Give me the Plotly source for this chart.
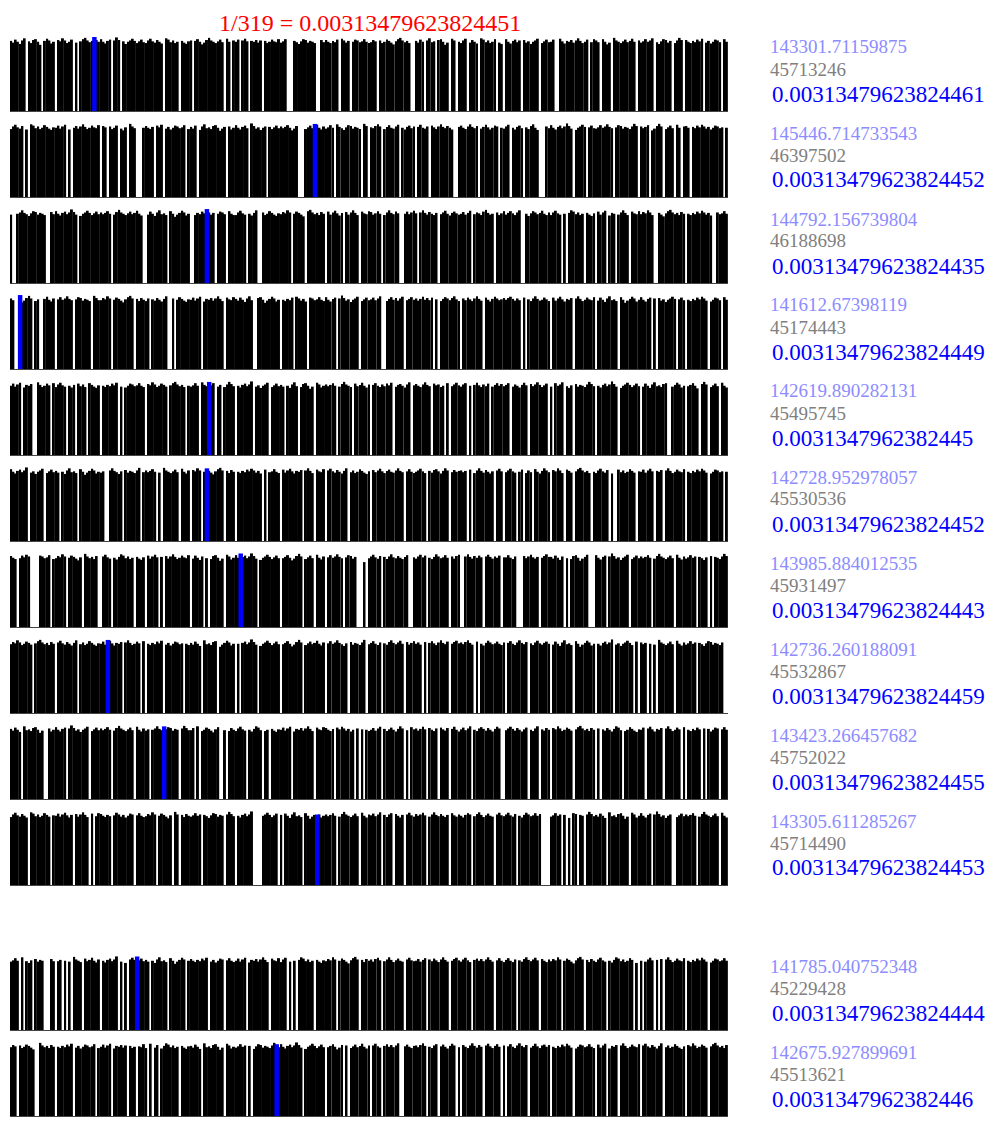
import plotly.graph_objects as go

TITLE = "1/319 = 0.00313479623824451"

# bar values (thousands) per row, 319 bars each; 0 = empty slot
ROW_01 = [
162,158,165,160,155,163,168,0,161,157,164,166,160,153,0,162,167,163,156,160,
0,164,161,168,163,157,160,165,0,158,0,161,166,169,163,159,162,170,164,160,
166,160,156,162,165,0,163,170,164,0,161,155,160,163,167,162,157,161,165,159,
157,163,167,161,158,164,160,156,0,168,165,159,163,157,160,0,162,158,155,161,
163,0,162,166,160,154,158,164,169,163,160,157,161,165,159,0,167,160,0,163,
160,165,0,163,167,161,0,162,160,164,158,163,0,162,157,160,165,161,159,166,
158,161,166,0,0,0,162,159,155,161,166,164,158,162,160,157,0,0,164,159,
164,160,157,162,159,165,0,167,163,158,162,0,160,165,163,159,161,166,160,157,
159,164,161,0,163,157,160,165,162,158,154,161,166,169,163,159,162,157,0,0,
162,158,165,160,0,163,168,159,161,0,164,166,160,153,158,0,167,163,0,160,
157,163,167,0,158,164,160,156,0,168,165,159,163,157,160,166,0,158,155,0,
166,160,156,162,165,159,163,0,164,158,161,155,160,163,167,0,157,161,165,159,
160,165,0,0,167,161,156,162,160,164,158,163,168,162,157,160,165,0,159,166,
163,159,0,166,160,154,158,0,169,163,160,157,161,165,159,162,167,160,0,163,
158,161,166,160,163,168,0,159,155,161,166,164,158,162,0,157,163,169,164,0,
164,160,157,162,159,165,161,167,0,158,162,156,160,165,163,159,0,166,160]

ROW_02 = [
157,163,167,161,158,164,0,156,0,168,165,159,163,157,160,166,162,158,155,161,
160,165,158,163,167,0,156,0,160,164,158,163,168,162,157,160,165,161,159,166,
0,164,161,0,163,157,160,165,0,158,154,161,0,169,163,159,0,0,0,160,
164,160,157,162,0,165,161,167,0,158,162,156,160,165,163,159,161,166,0,157,
162,158,165,0,155,163,168,159,161,157,164,166,160,153,158,162,0,163,156,160,
166,160,156,162,165,159,0,170,164,158,161,155,160,163,0,162,157,161,165,159,
163,159,162,166,160,154,158,164,0,0,0,157,161,165,159,166,167,160,156,163,
158,161,166,160,0,168,162,159,155,161,166,164,158,162,160,157,0,169,164,0,
161,159,164,168,163,0,157,162,166,160,158,163,167,0,160,156,162,165,159,163,
0,162,167,160,158,163,0,165,161,157,163,168,162,159,164,160,156,0,0,162,
165,160,157,163,168,162,159,164,0,158,162,167,161,156,160,165,163,0,160,158,
163,167,0,160,156,162,165,159,0,161,157,164,168,160,155,0,0,0,163,159,
166,160,156,162,165,159,163,170,164,158,0,155,160,163,167,162,0,161,165,159,
158,161,166,160,163,168,162,159,0,161,166,164,158,162,160,157,163,169,164,0,
163,159,162,166,0,154,158,164,169,163,0,157,161,165,159,0,167,160,0,163,
164,160,0,162,159,165,161,167,163,158,162,156,160,165,163,159,161,0,160]

ROW_03 = [
158,0,0,160,163,168,162,159,155,161,166,164,158,162,160,157,0,0,164,159,
166,160,156,162,165,159,163,170,164,158,0,155,160,163,167,162,157,161,165,159,
163,159,162,166,160,0,158,164,169,163,160,157,161,165,159,162,167,160,156,0,
0,158,165,160,155,163,168,159,161,157,0,166,160,153,158,162,167,163,156,160,
0,0,157,162,159,165,161,168,163,158,162,0,160,165,163,159,0,166,160,157,
157,163,167,161,158,0,160,156,162,168,0,0,163,157,160,166,162,158,155,161,
159,164,161,168,163,0,160,165,162,158,154,0,166,169,163,159,162,157,164,160,
0,165,158,163,167,161,156,162,0,164,158,163,168,162,157,0,165,161,159,166,
164,158,161,166,160,0,157,163,168,162,159,165,161,0,0,160,165,159,163,167,
161,0,163,168,162,158,164,160,157,162,0,159,163,167,160,156,162,165,161,158,
160,164,158,162,167,0,159,163,161,157,165,169,162,158,160,0,163,157,161,166,
158,162,166,161,157,163,168,0,0,160,155,161,166,163,159,162,167,160,157,163,
157,163,167,161,158,0,160,0,162,168,165,159,163,157,160,0,162,158,155,161,
0,165,158,163,167,0,156,162,160,0,158,163,168,162,157,0,165,161,159,166,
159,164,161,168,163,157,0,0,162,158,154,161,166,169,163,159,162,157,164,160,
0,160,157,162,159,165,161,167,163,158,162,156,0,0,163,159,161,166,160]

ROW_04 = [
163,159,0,0,168,154,158,164,169,163,0,157,161,0,0,162,167,160,156,163,
0,161,166,160,163,168,162,159,0,161,166,164,158,162,160,157,0,169,164,159,
159,164,161,168,163,0,160,165,162,158,154,161,166,169,163,0,162,157,164,160,
157,163,0,161,158,164,160,156,162,168,0,0,163,0,160,166,162,158,155,161,
160,165,158,163,167,0,156,162,160,164,158,163,168,162,157,0,165,161,159,166,
162,158,165,160,155,163,168,159,0,0,164,166,160,153,158,162,167,163,156,160,
0,160,157,162,159,165,0,167,163,158,162,156,0,165,163,159,161,166,160,157,
166,160,156,162,165,0,163,170,164,158,161,155,160,163,167,0,157,161,165,159,
161,165,159,163,168,0,0,157,162,166,160,164,158,163,167,0,159,162,166,160,
163,158,162,167,160,164,159,165,0,161,0,157,162,166,163,159,164,168,161,157,
0,163,159,165,161,157,163,168,162,158,0,165,160,156,162,167,163,159,161,164,
160,164,167,162,158,163,159,0,165,0,161,157,163,168,162,158,160,165,161,157,
0,165,158,163,167,161,156,162,160,164,0,163,168,162,157,160,165,161,159,166,
0,158,165,160,155,163,168,159,161,157,0,166,160,153,158,162,167,163,156,160,
166,160,156,162,165,0,163,0,164,158,161,155,160,163,167,162,0,161,165,159,
0,160,157,162,159,165,161,167,163,158,0,156,160,165,163,159,0,166,160]

ROW_05 = [
160,165,158,163,167,0,156,162,160,164,0,0,168,162,157,160,165,161,0,166,
157,163,167,161,158,0,160,156,162,0,165,159,163,157,0,166,162,158,155,161,
0,160,157,162,159,165,161,167,0,158,0,156,160,165,163,159,161,166,160,157,
0,164,161,168,163,157,160,165,162,158,0,161,166,169,163,159,162,157,0,160,
158,161,166,160,0,168,162,159,166,161,166,0,158,162,0,157,163,169,164,159,
0,160,156,162,165,159,163,170,0,158,161,155,160,163,167,0,157,161,165,159,
162,158,0,160,155,163,168,159,0,157,164,166,160,153,158,0,167,163,156,160,
163,159,162,166,160,0,158,164,169,163,160,157,0,165,159,162,167,160,156,163,
0,162,166,160,157,163,159,165,161,167,0,158,162,164,160,156,163,168,0,161,
164,160,157,163,168,162,159,0,165,161,163,157,160,0,166,0,159,163,167,161,
158,163,166,0,160,0,162,167,161,157,163,159,165,0,158,162,166,160,164,159,
162,166,0,158,163,160,156,162,167,161,0,164,159,163,168,162,157,161,165,0,
158,0,166,160,163,168,0,159,155,161,0,164,158,162,160,157,163,169,164,159,
0,160,156,162,165,159,163,170,164,158,0,155,160,163,167,162,157,161,165,159,
0,158,165,160,155,163,168,159,161,157,164,166,0,0,158,162,167,163,156,160,
0,159,162,166,160,154,0,164,169,163,0,157,161,165,159,0,167,160,156]

ROW_06 = [
166,160,156,162,165,159,163,170,0,158,161,155,160,163,167,0,157,161,165,159,
162,158,0,160,155,163,168,159,161,157,0,166,160,153,158,162,167,163,156,160,
158,161,0,0,163,168,162,159,155,161,0,164,158,162,160,157,163,169,0,159,
163,159,162,166,160,0,158,0,169,163,160,157,161,165,159,0,167,160,156,163,
0,164,161,168,163,0,160,165,162,158,154,161,166,169,163,0,162,157,164,160,
0,160,157,162,159,165,161,167,163,158,162,156,0,165,0,159,161,166,160,157,
0,165,158,163,167,161,156,162,160,164,0,163,168,162,157,0,165,161,159,166,
0,163,167,161,158,164,160,156,162,168,0,159,163,157,160,166,162,158,155,161,
0,164,159,163,167,161,157,162,165,160,158,163,168,162,159,0,161,166,160,157,
160,163,167,161,157,0,162,158,164,166,161,156,162,168,163,0,159,164,160,162,
163,159,162,0,165,0,157,163,168,162,158,164,160,156,161,0,163,167,161,0,
159,163,167,161,158,0,160,165,0,157,163,159,0,166,160,156,162,168,163,159,
0,164,161,168,163,157,0,165,162,158,0,161,166,169,163,159,162,157,0,160,
157,163,167,161,158,164,0,156,0,0,165,159,163,157,160,166,162,158,0,161,
160,165,158,163,167,161,0,162,160,164,0,163,168,162,157,160,165,161,159,166,
0,160,157,162,159,165,161,167,163,158,0,156,160,165,163,159,161,0,160]

ROW_07 = [
164,160,157,0,159,165,161,167,163,0,0,0,0,165,163,159,161,166,0,157,
159,164,161,168,163,0,160,165,162,158,154,161,0,169,163,159,162,157,164,0,
0,163,167,161,158,0,160,156,162,168,165,159,163,157,160,0,162,158,155,161,
0,165,158,163,167,161,0,162,0,164,158,163,168,162,157,160,165,161,159,166,
0,158,165,160,155,163,0,159,0,157,164,166,160,153,158,0,167,163,156,160,
166,160,167,162,165,159,163,170,164,158,0,155,160,163,167,162,157,161,165,159,
0,159,162,166,160,154,158,164,169,163,0,157,161,165,159,0,167,160,156,163,
0,161,166,160,163,168,162,159,0,161,166,164,158,162,0,0,0,150,0,159,
163,167,161,158,164,0,162,157,163,168,161,159,164,160,157,162,166,0,0,161,
158,163,167,161,165,0,160,157,162,168,163,159,161,166,160,0,163,158,164,167,
0,0,163,168,162,158,164,160,165,161,0,163,167,162,158,163,160,165,0,161,
161,166,160,157,163,0,0,0,164,159,163,167,161,158,162,0,160,164,168,162,
162,158,165,160,155,163,0,159,0,157,164,166,160,153,158,162,167,0,0,0,
166,160,156,162,165,0,163,170,164,158,161,155,160,163,167,0,157,161,165,159,
163,159,162,166,160,0,158,164,169,163,160,157,161,165,159,0,167,160,156,163,
158,161,166,160,163,0,162,159,155,161,0,164,0,162,160,157,163,169,164]

ROW_08 = [
159,164,161,168,163,157,160,165,162,158,0,161,166,169,163,159,162,157,164,160,
0,163,167,161,158,164,160,156,162,168,0,159,163,157,160,166,162,158,155,161,
160,165,158,166,167,161,156,162,160,164,0,163,168,162,157,160,165,161,0,166,
0,160,157,162,159,165,161,167,0,158,162,156,160,165,163,159,161,0,160,157,
162,158,165,160,155,0,168,159,161,157,164,166,0,153,158,162,167,163,156,160,
0,160,0,162,165,159,163,170,164,158,0,155,160,163,167,162,157,161,165,159,
0,159,162,166,160,154,158,164,169,163,0,157,161,165,159,162,167,160,156,163,
0,161,166,160,163,168,162,159,155,161,0,164,158,162,160,157,163,169,0,159,
162,166,160,157,163,0,161,158,164,168,162,159,163,167,160,0,164,158,162,166,
160,163,158,0,164,0,162,166,161,157,163,168,162,159,165,0,160,164,167,161,
163,159,164,168,162,158,0,165,0,160,156,162,167,163,159,161,165,160,157,163,
0,162,166,160,157,163,168,162,159,164,0,161,157,163,167,161,158,162,165,160,
0,158,165,160,155,163,168,159,161,157,0,166,160,153,158,162,167,163,156,160,
0,160,156,162,165,159,163,170,0,158,161,155,160,163,167,162,157,0,165,0,
163,159,162,0,160,0,158,0,169,163,160,157,161,165,159,0,167,160,156,163,
158,161,166,160,163,0,162,159,155,161,166,164,158,162,160,157,163,0,0]

ROW_09 = [
162,158,165,160,155,0,168,159,161,157,164,166,160,153,158,0,0,163,156,160,
166,160,156,162,165,0,163,170,164,158,161,155,160,163,167,0,157,161,165,159,
163,159,162,166,160,0,158,164,169,163,160,157,161,165,159,0,167,160,156,163,
158,161,0,160,163,168,162,159,165,161,166,164,158,162,160,0,163,169,164,159,
159,164,0,168,0,157,160,165,162,158,154,161,166,0,0,159,0,157,164,160,
157,163,167,161,158,0,160,156,162,168,165,159,0,157,160,0,162,158,155,161,
160,165,158,163,167,0,156,162,160,164,158,163,168,162,157,0,165,161,159,166,
164,160,157,162,0,165,161,167,163,158,162,156,160,0,163,0,161,0,160,157,
160,164,158,163,167,0,162,157,161,165,160,156,162,168,163,0,159,0,166,161,
163,158,162,167,161,0,164,160,157,163,0,165,161,158,164,0,162,167,160,156,
161,165,159,163,168,0,160,157,163,166,162,158,164,160,156,162,167,163,0,0,
159,163,167,162,158,164,160,156,161,165,0,160,157,163,168,0,161,158,164,160,
0,164,161,168,163,157,160,165,162,158,0,161,166,169,163,159,162,157,164,160,
0,163,0,161,158,164,160,156,162,168,165,159,0,157,160,166,162,158,155,161,
160,165,0,163,167,161,156,162,160,164,0,163,168,162,157,160,165,161,0,166,
0,160,157,162,159,165,161,0,163,0,162,156,160,165,163,0,161,166,160]

ROW_10 = [
157,163,167,161,158,164,160,156,0,168,165,159,163,157,160,166,162,158,0,161,
160,165,158,163,167,161,156,162,0,164,158,163,168,162,157,0,165,0,159,166,
164,160,157,162,159,0,161,167,163,158,162,156,160,165,163,0,161,166,160,157,
159,164,161,168,163,0,160,165,162,158,154,161,0,169,163,0,162,157,164,160,
158,161,166,160,163,0,162,159,155,161,166,164,158,162,160,0,163,169,164,159,
0,160,156,162,165,159,163,170,0,0,0,0,160,163,167,162,157,161,165,0,
162,0,165,160,155,163,168,159,161,157,0,166,160,153,158,162,160,163,156,160,
163,159,162,166,160,0,158,164,169,163,160,157,161,165,159,0,167,160,156,163,
161,165,159,163,168,0,162,157,163,166,0,164,160,156,162,0,163,167,161,158,
164,160,163,167,161,0,158,163,168,162,159,164,160,157,162,0,166,161,158,163,
160,156,162,166,163,0,159,164,168,162,157,161,165,160,158,0,163,167,161,159,
163,167,161,158,164,0,160,156,162,167,163,159,161,166,160,164,0,0,0,0,
158,161,166,160,163,0,162,0,155,0,166,164,0,162,160,0,163,169,164,159,
162,158,165,160,155,0,168,159,161,157,164,166,160,153,158,0,167,163,156,160,
166,160,156,162,165,0,163,170,164,158,161,155,160,163,0,0,157,161,165,159,
163,159,162,166,160,0,158,164,169,163,160,157,161,165,159,0,167,160,156]

ROW_11 = [
158,161,166,160,0,168,0,159,155,161,0,164,158,162,160,0,0,0,164,159,
0,159,162,0,160,0,158,0,169,163,160,157,0,165,159,162,167,160,156,163,
0,160,156,162,165,159,163,170,0,158,0,155,0,163,167,162,167,161,165,159,
162,158,0,160,155,163,168,159,161,157,0,166,160,153,158,162,167,163,0,160,
164,160,157,162,159,165,161,167,0,158,162,156,160,165,163,0,161,166,160,157,
160,165,158,163,167,0,156,162,160,164,158,163,168,162,157,0,165,161,159,166,
157,163,167,0,158,0,160,0,162,168,165,159,163,157,160,0,162,158,155,161,
159,164,161,168,163,0,160,165,162,158,154,161,166,169,163,0,162,157,164,160,
163,158,164,167,161,0,159,163,168,162,157,161,165,160,158,0,163,167,161,159,
160,164,158,162,166,0,163,159,165,161,157,163,168,162,158,0,160,164,167,161,
158,163,167,161,157,0,162,165,160,164,159,163,168,162,158,0,161,166,160,157,
162,166,160,157,163,0,161,158,164,168,162,159,163,167,161,0,164,160,157,163,
159,164,161,168,163,0,160,165,162,158,154,161,166,169,163,0,162,157,164,160,
157,163,167,161,158,0,160,156,162,168,165,159,163,157,160,166,162,0,155,0,
160,0,158,163,167,161,0,162,0,164,0,163,168,162,157,160,165,161,159,166,
0,160,157,162,159,165,161,167,163,158,0,156,160,165,163,159,161,166,160]

ROW_12 = [
159,164,161,0,163,157,160,165,162,158,154,0,0,169,163,159,162,157,164,160,
0,160,157,162,159,165,161,167,0,158,162,156,160,165,163,159,161,166,0,157,
160,165,158,163,167,0,156,162,160,164,158,163,0,162,157,160,0,161,159,166,
157,0,167,0,158,164,0,156,162,168,165,159,163,157,160,0,162,158,155,161,
162,158,165,160,155,0,168,159,161,157,164,166,160,153,158,0,167,163,156,160,
158,161,166,160,163,0,162,0,155,161,166,164,158,162,160,157,163,169,163,159,
166,160,156,162,165,159,163,170,164,158,0,155,160,163,167,162,157,161,165,159,
0,159,162,166,160,154,158,164,0,163,0,157,161,165,159,162,167,160,156,163,
0,163,167,161,158,0,162,166,160,164,159,163,168,0,0,161,165,160,157,162,
163,159,164,168,162,0,160,157,163,166,0,161,165,160,156,162,167,163,0,159,
0,164,160,157,163,168,162,158,164,160,0,163,167,161,157,162,166,160,0,163,
0,161,166,160,157,163,168,162,159,164,0,158,162,167,161,157,163,165,160,164,
0,160,157,162,159,165,161,167,163,158,0,156,160,165,163,159,161,166,160,157,
0,165,158,163,167,0,156,162,160,164,0,163,168,162,157,160,165,161,159,166,
0,163,167,161,158,164,160,156,162,168,0,159,163,157,160,166,162,158,155,161,
0,164,161,168,163,157,160,165,162,158,0,161,166,169,163,159,162,157,164]

ROWS = [ROW_01, ROW_02, ROW_03, ROW_04, ROW_05, ROW_06,
        ROW_07, ROW_08, ROW_09, ROW_10, ROW_11, ROW_12]

# index of the highlighted (blue) bar in each row
HIGHLIGHT = [37, 135, 87, 4, 88, 87, 102, 43, 68, 136, 56, 118]

MEANS = ["143301.71159875", "145446.714733543", "144792.156739804", "141612.67398119",
         "142619.890282131", "142728.952978057", "143985.884012535", "142736.260188091",
         "143423.266457682", "143305.611285267", "141785.040752348", "142675.927899691"]
SUMS = ["45713246", "46397502", "46188698", "45174443", "45495745", "45530536",
        "45931497", "45532867", "45752022", "45714490", "45229428", "45513621"]
PROBS = ["0.00313479623824461", "0.00313479623824452", "0.00313479623824435",
         "0.00313479623824449", "0.0031347962382445", "0.00313479623824452",
         "0.00313479623824443", "0.00313479623824459", "0.00313479623824455",
         "0.00313479623824453", "0.00313479623824444", "0.0031347962382446"]

lens = [len(r) for r in ROWS]
assert all(n == 319 for n in lens), f"row lengths: {lens}"

W, H = 997, 1128
FONT = "Liberation Serif"
baselines = [111 + 86 * i for i in range(10)] + [1030, 1116]
PH = 74
X0, X1 = 10, 728
YMAX = 171

fig = go.Figure()
layout = dict(width=W, height=H, autosize=False,
              margin=dict(l=0, r=0, t=0, b=0),
              paper_bgcolor="white", plot_bgcolor="white",
              barmode="overlay", bargap=0.12, showlegend=False)
annotations = []

for i, vals in enumerate(ROWS):
    k = "" if i == 0 else str(i + 1)
    xa, ya = "x" + k, "y" + k
    n = len(vals)
    xs = list(range(n))
    fig.add_trace(go.Bar(x=xs, y=vals, xaxis=xa, yaxis=ya,
                         marker=dict(color="#000000", line=dict(width=0)),
                         hoverinfo="skip"))
    h = HIGHLIGHT[i]
    fig.add_trace(go.Bar(x=[h], y=[vals[h]], xaxis=xa, yaxis=ya,
                         marker=dict(color="#0000ff", line=dict(color="#0000ff", width=2.5)),
                         hoverinfo="skip"))
    b = baselines[i]
    top = b - PH
    layout["xaxis" + k] = dict(domain=[X0 / W, X1 / W], range=[-0.5, n - 0.5],
                              anchor=ya, showticklabels=False, ticks="",
                              showgrid=False, zeroline=False, fixedrange=True,
                              showline=True, linecolor="#444444", linewidth=1)
    layout["yaxis" + k] = dict(domain=[1 - b / H, 1 - top / H], range=[0, YMAX],
                              anchor=xa, visible=False, showgrid=False,
                              zeroline=False, fixedrange=True)
    tx = 768 / W
    annotations.append(dict(xref="paper", yref="paper", x=tx, y=1 - (top + 10) / H,
                            xanchor="left", yanchor="middle", showarrow=False,
                            text=MEANS[i], font=dict(family=FONT, size=19, color="#8c8cff")))
    annotations.append(dict(xref="paper", yref="paper", x=tx, y=1 - (top + 32) / H,
                            xanchor="left", yanchor="middle", showarrow=False,
                            text=SUMS[i], font=dict(family=FONT, size=19, color="#808080")))
    annotations.append(dict(xref="paper", yref="paper", x=770 / W, y=1 - (top + 57) / H,
                            xanchor="left", yanchor="middle", showarrow=False,
                            text=PROBS[i], font=dict(family=FONT, size=23, color="#0000ff")))

annotations.append(dict(xref="paper", yref="paper", x=370 / W, y=1 - 23 / H,
                        xanchor="center", yanchor="middle", showarrow=False,
                        text=TITLE, font=dict(family=FONT, size=24, color="#ff0000")))
layout["annotations"] = annotations
fig.update_layout(**layout)
fig.write_html("out.html", config={"displayModeBar": False},
               post_script="document.body.style.margin='0px';document.body.style.padding='0px';")
